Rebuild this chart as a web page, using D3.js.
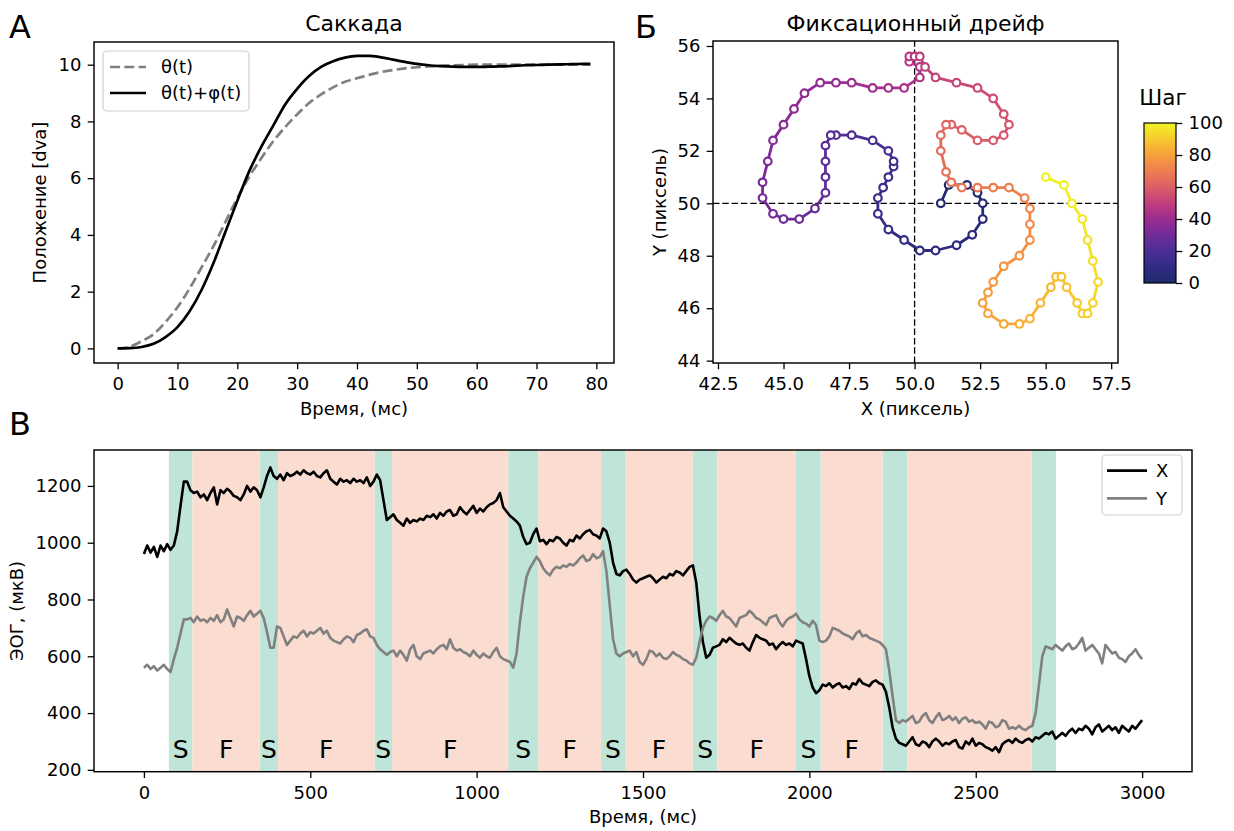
<!DOCTYPE html>
<html><head><meta charset="utf-8">
<script src="https://cdn.jsdelivr.net/npm/d3@7"></script>
<style>body{margin:0;background:#fff;} svg text{font-family:"DejaVu Sans",sans-serif;fill:#000;}</style>
</head><body><svg id="c" width="1234" height="831"></svg>
<script>
// ---------- Panel A: saccade ----------
const sacTime = [0,2,4,6,8,10,12,14,16,18,20,22,24,26,28,30,32,34,36,38,40,42,44,46,48,50,52,54,56,58,60,62,64,66,68,70,72,74,76,78,79];
const sacTheta = [0,0.06,0.25,0.5,0.93,1.45,2.1,2.85,3.6,4.45,5.3,6.05,6.7,7.3,7.8,8.25,8.65,8.95,9.2,9.4,9.52,9.64,9.74,9.81,9.87,9.91,9.94,9.96,9.98,9.99,10,10,10,10,10,10,10,10,10,10,10];
const sacThetaPhi = [0,0.01,0.05,0.16,0.4,0.75,1.3,2.05,3.0,4.1,5.2,6.25,7.1,7.85,8.6,9.15,9.6,9.92,10.12,10.25,10.31,10.31,10.26,10.18,10.1,10.03,9.98,9.95,9.93,9.92,9.92,9.93,9.94,9.96,9.98,9.99,10.0,10.01,10.02,10.03,10.03];
const sacXTicks = [0,10,20,30,40,50,60,70,80];
const sacYTicks = [0,2,4,6,8,10];
const sacLegend = ["θ(t)","θ(t)+φ(t)"];

// ---------- Panel B: fixational drift ----------
const driftX = [51.0,51.3,52.0,52.4,52.6,52.6,52.2,51.6,50.8,50.2, 49.6,49.0,48.6,48.6,48.8,49.0,49.2,49.2,49.0,48.4, 47.6,47.0,46.8,46.6,46.6,46.6,46.6,46.2,45.6,45.0, 44.6,44.2,44.2,44.4,44.6,45.0,45.4,45.8,46.4,47.0, 47.6,48.4,49.0,49.6,50.2,50.2,49.8,49.8,50.0,50.2, 50.4,50.8,51.6,52.4,53.0,53.4,53.6,53.4,53.0,52.4, 51.8,51.4,51.2,51.0,51.0,51.2,51.4,51.8,52.4,53.0, 53.6,54.2,54.4,54.4,54.4,54.0,53.4,53.0,52.8,52.6, 52.8,53.4,54.0,54.4,54.8,55.2,55.4,55.6,55.8,56.2, 56.4,56.6,56.8,57.0,56.8,56.6,56.4,56.0,55.7,55.0];
const driftY = [50.0,50.7,50.7,50.4,50.0,49.4,48.8,48.4,48.2,48.2, 48.6,49.0,49.6,50.2,50.6,51.0,51.4,51.6,52.0,52.4, 52.6,52.6,52.6,52.2,51.6,51.0,50.4,49.8,49.4,49.4, 49.6,50.2,50.8,51.6,52.4,53.0,53.6,54.2,54.6,54.6, 54.6,54.4,54.4,54.4,54.8,55.2,55.4,55.6,55.6,55.6, 55.2,54.8,54.6,54.4,54.0,53.4,53.0,52.6,52.4,52.4, 52.8,53.0,53.0,52.6,52.0,51.2,50.8,50.6,50.6,50.6, 50.6,50.2,49.8,49.2,48.6,48.0,47.6,47.0,46.6,46.2, 45.8,45.4,45.4,45.6,46.2,46.8,47.2,47.2,46.8,46.2, 45.8,45.8,46.2,47.0,47.8,48.6,49.4,50.0,50.7,51.0];
const driftXTicks = [42.5,45.0,47.5,50.0,52.5,55.0,57.5];
const driftYTicks = [44,46,48,50,52,54,56];
const cbarTicks = [0,20,40,60,80,100];
const cmapStops = ["#212a6e","#2f2c85","#4a2f96","#6f2d9a","#9c2892","#c33f7e","#dc5e66","#ee7d50","#f8a03c","#f9c82e","#f0f424"];

// ---------- Panel C: EOG ----------
const eogStep = 10;
const eogX = [960,990,965,985,950,990,970,995,975,990,
1040,1130,1215,1215,1185,1175,1180,1160,1170,1150,
1175,1195,1135,1185,1175,1190,1180,1165,1160,1150,
1170,1200,1180,1195,1185,1160,1195,1235,1265,1235,
1225,1240,1220,1245,1235,1240,1250,1240,1255,1245,
1240,1250,1235,1230,1245,1255,1225,1215,1205,1225,
1215,1220,1210,1225,1215,1220,1210,1230,1200,1215,
1240,1220,1150,1080,1090,1100,1080,1070,1060,1085,
1070,1080,1075,1085,1080,1095,1090,1100,1085,1105,
1095,1110,1115,1095,1100,1125,1110,1100,1115,1130,
1105,1120,1110,1125,1135,1140,1150,1175,1125,1110,
1095,1085,1075,1060,1020,995,1000,1030,1050,1005,
1010,995,1010,1005,1020,1015,1000,990,1010,1005,
1025,1015,1030,1040,1045,1030,1025,1015,1050,1040,
1000,930,890,885,900,905,890,870,860,870,
875,880,885,875,860,870,880,875,890,885,
900,895,885,900,915,920,860,740,650,595,
605,630,635,640,660,650,665,655,645,640,
645,630,620,650,675,665,660,655,640,645,
625,640,650,640,645,635,655,650,645,590,
530,490,470,480,500,495,505,490,500,505,
490,495,485,505,500,520,505,500,495,510,
515,505,500,475,420,350,310,295,290,285,
300,315,290,285,300,295,280,300,310,300,
285,295,290,300,305,280,275,300,290,310,
285,295,290,280,275,268,280,262,290,300,
305,295,310,300,295,305,310,300,315,310,
320,330,325,335,310,320,330,320,335,345,
330,345,340,355,345,325,350,360,335,345,
355,340,350,330,355,345,335,355,345,360,
375];
const eogY = [560,570,555,565,550,560,570,555,545,590,
630,680,730,730,735,720,740,725,730,720,
735,725,745,720,730,765,735,705,740,735,
725,745,760,740,750,760,735,685,630,630,
705,700,670,640,655,670,665,680,690,670,
685,680,690,700,680,690,665,655,650,645,
660,670,665,650,675,680,690,695,670,665,
640,625,615,605,615,620,600,620,605,585,
625,640,600,590,610,615,620,610,625,635,
640,625,660,630,620,625,615,610,600,620,
605,595,610,600,595,615,630,600,590,585,
580,560,610,720,810,880,910,930,950,935,
910,895,885,905,915,910,920,915,925,920,
930,945,955,935,940,960,945,950,970,900,
780,660,610,600,610,615,620,600,615,580,
570,590,620,615,600,610,595,590,600,615,
605,600,590,585,575,570,595,650,700,725,
740,735,725,745,760,740,735,720,705,735,
740,745,760,750,735,730,720,710,735,740,
745,720,705,725,735,740,750,730,720,715,
705,725,710,655,650,655,670,700,695,690,
680,675,670,660,680,690,670,675,665,660,
655,650,640,625,550,460,375,365,375,370,
380,390,365,370,390,400,375,365,385,400,
375,380,390,375,385,365,380,385,370,375,
365,370,360,345,370,365,350,355,375,370,
345,350,345,355,345,340,350,355,400,500,
600,635,630,625,640,630,620,635,645,625,
630,645,665,620,630,640,625,610,575,640,
625,610,615,595,590,580,600,610,625,605,
590];
const sStart = [75,348,693,1095,1374,1650,1960,2220,2668];
const sEnd   = [146,403,746,1185,1446,1723,2034,2295,2741];
const fStart = [146,403,746,1185,1446,1723,2034,2295];
const fEnd   = [348,693,1095,1374,1650,1960,2220,2668];
const labeledPhases = 7;
const eogXTicks = [0,500,1000,1500,2000,2500,3000];
const eogYTicks = [200,400,600,800,1000,1200];
const eogLegend = ["X","Y"];

// ================= drawing =================
const svg = d3.select("#c");
const TICK = 18, LAB = 18;

function styleAxis(g){
  g.select(".domain").remove();
  g.selectAll(".tick line").attr("stroke","#000").attr("stroke-width",1.3);
  g.selectAll(".tick text").attr("font-size",TICK+"px").attr("fill","#000");
}
function drawAxes(x, y, xt, yt, xf, yf){
  const [x0,x1] = x.range(), [y1,y0] = y.range();
  svg.append("g").attr("transform",`translate(0,${y1})`)
    .call(d3.axisBottom(x).tickValues(xt).tickFormat(xf).tickSize(6.3).tickPadding(8)).call(styleAxis);
  svg.append("g").attr("transform",`translate(${x0},0)`)
    .call(d3.axisLeft(y).tickValues(yt).tickFormat(yf).tickSize(6.3).tickPadding(6.3)).call(styleAxis);
}
function drawFrame(x, y){
  const [x0,x1] = x.range(), [y1,y0] = y.range();
  svg.append("rect").attr("x",x0).attr("y",y0).attr("width",x1-x0).attr("height",y1-y0)
    .attr("fill","none").attr("stroke","#000").attr("stroke-width",1.45);
}
function text(x,y,s,size,anchor,rot){
  const t = svg.append("text").attr("font-size",size+"px").attr("text-anchor",anchor||"middle").text(s);
  if(rot){ t.attr("transform",`translate(${x},${y}) rotate(-90)`).attr("dy","0.36em"); }
  else t.attr("x",x).attr("y",y);
  return t;
}
function clip(id, x, y){
  const [x0,x1] = x.range(), [y1,y0] = y.range();
  svg.append("clipPath").attr("id",id).append("rect").attr("x",x0).attr("y",y0).attr("width",x1-x0).attr("height",y1-y0);
}
function legend(bx,by,bw,bh,rows,lx0,lx1,tx,items){
  svg.append("rect").attr("x",bx).attr("y",by).attr("width",bw).attr("height",bh).attr("rx",4)
    .attr("fill","#fff").attr("fill-opacity",0.8).attr("stroke","#d0d0d0").attr("stroke-width",1.2);
  items.forEach((it,i)=>{
    svg.append("line").attr("x1",lx0).attr("x2",lx1).attr("y1",rows[i]).attr("y2",rows[i])
      .attr("stroke",it.c).attr("stroke-width",it.w).attr("stroke-dasharray",it.d||null);
    text(tx,rows[i],it.s,TICK,"start").attr("dy","0.36em");
  });
}

// ----- Panel A -----
{
  const x = d3.scaleLinear([-3.95,82.95],[94,614]);
  const y = d3.scaleLinear([-0.515,10.8],[363,42]);
  clip("clipA",x,y);
  const line = vals => d3.line().x((d,i)=>x(sacTime[i])).y(d=>y(d)).curve(d3.curveMonotoneX)(vals);
  const g = svg.append("g").attr("clip-path","url(#clipA)");
  g.append("path").attr("d",line(sacTheta)).attr("fill","none").attr("stroke","#808080").attr("stroke-width",2.7).attr("stroke-dasharray","10,4.3");
  g.append("path").attr("d",line(sacThetaPhi)).attr("fill","none").attr("stroke","#000").attr("stroke-width",2.7);
  drawAxes(x,y,sacXTicks,sacYTicks,d3.format("d"),d3.format("d"));
  drawFrame(x,y);
  legend(103,51,146,60,[67,93],110,146,161,[
    {s:sacLegend[0],c:"#808080",w:2.7,d:"10,4.3"},{s:sacLegend[1],c:"#000",w:2.7}]);
  text(354,31,"Саккада",22);
  text(354,415,"Время, (мс)",LAB);
  text(40,202.5,"Положение [dva]",LAB,"middle",true);
  text(9,38,"A",32,"start");
}

// ----- Panel B -----
{
  const x = d3.scaleLinear([42.31,57.76],[713,1118]);
  const y = d3.scaleLinear([43.91,56.19],[363,41]);
  const cmap = d3.interpolateRgbBasis(cmapStops);
  const n = driftX.length;
  const col = i => cmap(i/(n-1));
  clip("clipB",x,y);
  const g = svg.append("g").attr("clip-path","url(#clipB)");
  g.append("line").attr("x1",x.range()[0]).attr("x2",x.range()[1]).attr("y1",y(50)).attr("y2",y(50))
    .attr("stroke","#000").attr("stroke-width",1.3).attr("stroke-dasharray","6.5,2.8");
  g.append("line").attr("x1",x(50)).attr("x2",x(50)).attr("y1",y.range()[0]).attr("y2",y.range()[1])
    .attr("stroke","#000").attr("stroke-width",1.3).attr("stroke-dasharray","6.5,2.8");
  const segs = d3.range(n-1);
  g.selectAll("line.seg").data(segs).join("line").attr("class","seg")
    .attr("x1",i=>x(driftX[i])).attr("y1",i=>y(driftY[i]))
    .attr("x2",i=>x(driftX[i+1])).attr("y2",i=>y(driftY[i+1]))
    .attr("stroke",i=>col(i+0.5)).attr("stroke-width",2.8).attr("stroke-linecap","round");
  g.selectAll("circle").data(driftX).join("circle")
    .attr("cx",d=>x(d)).attr("cy",(d,i)=>y(driftY[i])).attr("r",3.8)
    .attr("fill","#fff").attr("stroke",(d,i)=>col(i)).attr("stroke-width",2.2);
  drawAxes(x,y,driftXTicks,driftYTicks,d3.format(".1f"),d3.format("d"));
  drawFrame(x,y);
  text(915.5,31,"Фиксационный дрейф",22);
  text(915.5,415,"X (пиксель)",LAB);
  text(660,202,"Y (пиксель)",LAB,"middle",true);
  text(635,38,"Б",32,"start");

  // colorbar
  const cy = d3.scaleLinear([0,100],[283,123]);
  const grad = svg.append("defs").append("linearGradient").attr("id","cbg")
    .attr("x1",0).attr("y1",1).attr("x2",0).attr("y2",0);
  d3.range(0,1.0001,0.05).forEach(s=>grad.append("stop").attr("offset",s).attr("stop-color",cmap(s)));
  svg.append("rect").attr("x",1144).attr("y",123).attr("width",32).attr("height",160).attr("fill","url(#cbg)");
  svg.append("rect").attr("x",1144).attr("y",123).attr("width",32).attr("height",160)
    .attr("fill","none").attr("stroke","#000").attr("stroke-width",1.2);
  const ga = svg.append("g").attr("transform","translate(1176,0)")
    .call(d3.axisRight(cy).tickValues(cbarTicks).tickFormat(d3.format("d")).tickSize(6.3).tickPadding(6.3));
  styleAxis(ga);
  text(1163,105,"Шаг",21.5);
}

// ----- Panel C -----
{
  const x = d3.scaleLinear([-150,3149.95],[94,1192]);
  const y = d3.scaleLinear([193.5,1326.5],[771.7,450]);
  clip("clipC",x,y);
  const g = svg.append("g").attr("clip-path","url(#clipC)");
  const [y1,y0] = y.range();
  g.selectAll("rect.s").data(sStart).join("rect").attr("class","s")
    .attr("x",d=>x(d)).attr("width",(d,i)=>x(sEnd[i])-x(d)).attr("y",y0).attr("height",y1-y0).attr("fill","#bfe4d8");
  g.selectAll("rect.f").data(fStart).join("rect").attr("class","f")
    .attr("x",d=>x(d)).attr("width",(d,i)=>x(fEnd[i])-x(d)).attr("y",y0).attr("height",y1-y0).attr("fill","#fadcd1");
  const line = vals => d3.line().x((d,i)=>x(i*eogStep)).y(d=>y(d))(vals);
  g.append("path").attr("d",line(eogX)).attr("fill","none").attr("stroke","#000").attr("stroke-width",2.6).attr("stroke-linejoin","round");
  g.append("path").attr("d",line(eogY)).attr("fill","none").attr("stroke","#808080").attr("stroke-width",2.6).attr("stroke-linejoin","round");
  for(let i=0;i<labeledPhases;i++){
    text(x((sStart[i]+sEnd[i])/2),758,"S",25);
    text(x((fStart[i]+fEnd[i])/2),758,"F",25);
  }
  drawAxes(x,y,eogXTicks,eogYTicks,d3.format("d"),d3.format("d"));
  drawFrame(x,y);
  legend(1102,455,80,60,[470.7,498.3],1107,1147,1156,[
    {s:eogLegend[0],c:"#000",w:2.7},{s:eogLegend[1],c:"#808080",w:2.7}]);
  text(643,823,"Время, (мс)",LAB);
  text(16.5,611,"ЭОГ, (мкВ)",LAB,"middle",true);
  text(9,435,"В",32,"start");
}
</script></body></html>
